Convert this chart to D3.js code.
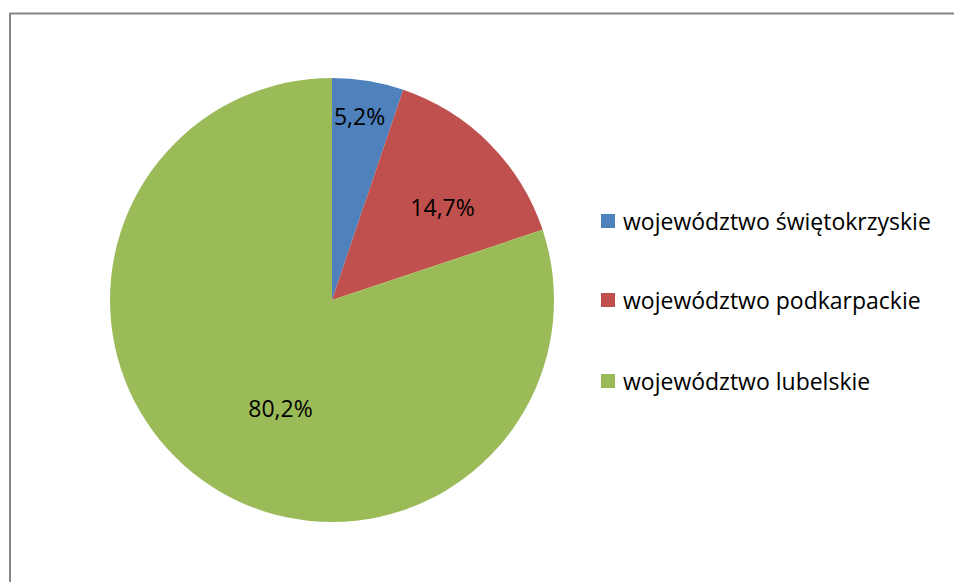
<!DOCTYPE html>
<html><head><meta charset="utf-8">
<script src="https://cdn.jsdelivr.net/npm/d3@7"></script>
<style>body{margin:0;background:#fff;}svg{display:block;}</style>
</head><body>
<svg id="c" width="954" height="582"></svg>
<script>
const categories = ["województwo świętokrzyskie", "województwo podkarpackie", "województwo lubelskie"];
const values = [5.2, 14.7, 80.2];
const labels = ["5,2%", "14,7%", "80,2%"];
const colors = ["#4F81BD", "#C0504D", "#9BBB59"];

const FONT = "'Open Sans', Lato, sans-serif";
const FS = 23;
const svg = d3.select("#c");
const W = 954, H = 582;
svg.append("rect").attr("x", 10).attr("y", 13.5).attr("width", W + 10).attr("height", H + 10)
  .attr("fill", "#fff").attr("stroke", "#868686").attr("stroke-width", 2);

const cx = 332, cy = 300, R = 222;
const pie = d3.pie().sort(null).value(d => d)(values);
const arc = d3.arc().innerRadius(0).outerRadius(R);
const g = svg.append("g").attr("transform", `translate(${cx},${cy})`);
g.selectAll("path").data(pie).join("path").attr("d", arc).attr("fill", (d, i) => colors[i]);

const labelR = [0.84, 0.65, 0.54];
const labelShift = [-0.015, 0.085, -0.18];
g.selectAll("text").data(pie).join("text")
  .attr("x", (d, i) => { const a = (d.startAngle + d.endAngle) / 2 + labelShift[i]; return Math.sin(a) * R * labelR[i]; })
  .attr("y", (d, i) => { const a = (d.startAngle + d.endAngle) / 2 + labelShift[i]; return -Math.cos(a) * R * labelR[i]; })
  .attr("text-anchor", "middle").attr("dominant-baseline", "central")
  .attr("font-family", FONT).attr("font-size", FS).attr("fill", "#000")
  .text((d, i) => labels[i]);

const lg = svg.append("g");
const rows = [221, 300, 381];
categories.forEach((c, i) => {
  lg.append("rect").attr("x", 601).attr("y", rows[i] - 7).attr("width", 14).attr("height", 14).attr("fill", colors[i]);
  lg.append("text").attr("x", 623).attr("y", rows[i]).attr("dominant-baseline", "central")
    .attr("font-family", FONT).attr("font-size", FS).attr("fill", "#000").text(c);
});
</script>
</body></html>
